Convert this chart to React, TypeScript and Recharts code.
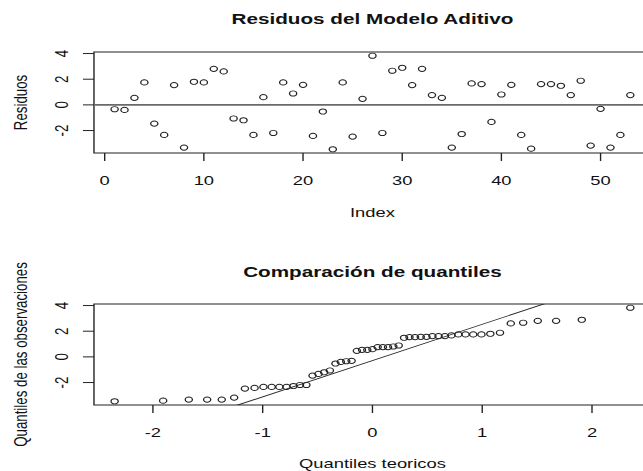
import React from 'react';
import { ScatterChart, Scatter, XAxis, YAxis, ReferenceLine, ReferenceArea } from 'recharts';

// Residuals of the additive model, in index order (1..53)
const residuos = [
  -0.34, -0.39, 0.55, 1.75, -1.46, -2.34, 1.54, -3.33, 1.8, 1.75,
  2.81, 2.61, -1.06, -1.2, -2.34, 0.6, -2.19, 1.75, 0.89, 1.56,
  -2.42, -0.52, -3.46, 1.75, -2.47, 0.47, 3.83, -2.19, 2.66, 2.89,
  1.54, 2.81, 0.76, 0.55, -3.33, -2.27, 1.67, 1.62, -1.33, 0.81,
  1.56, -2.34, -3.41, 1.62, 1.62, 1.49, 0.76, 1.88, -3.17, -0.31,
  -3.33, -2.34, 0.76,
];

// Theoretical normal quantiles for n = 53
const teoricos = [
  -2.349, -1.907, -1.673, -1.506, -1.373, -1.26, -1.162, -1.074, -0.993, -0.918,
  -0.848, -0.782, -0.72, -0.66, -0.602, -0.546, -0.492, -0.44, -0.388, -0.337,
  -0.288, -0.239, -0.19, -0.142, -0.095, -0.047, 0, 0.047, 0.095, 0.142,
  0.19, 0.239, 0.288, 0.337, 0.388, 0.44, 0.492, 0.546, 0.602, 0.66,
  0.72, 0.782, 0.848, 0.918, 0.993, 1.074, 1.162, 1.26, 1.373, 1.506,
  1.673, 1.907, 2.349,
];

const indexTicks = [0, 10, 20, 30, 40, 50];
const residTicks = [-2, 0, 2, 4];
const teorTicks = [-2, -1, 0, 1, 2];

const qqIntercept = -0.285;
const qqSlope = 2.824;

const topData = residuos.map((v, i) => ({ x: i + 1, y: v }));
const observados = [...residuos].sort((a, b) => a - b);
const qqData = teoricos.map((q, i) => ({ x: q, y: observados[i] }));

const SX = 1.38;
const VW = 500;
const FONT = 'Liberation Sans, Arial, sans-serif';
const FS = 13.3;
const TFS = 15;
const INK = '#111';
const LINE = '#222';

const xDomTop: [number, number] = [-1.08, 55.08];
const xDomQQ: [number, number] = [-2.537, 2.537];
const yDom: [number, number] = [-3.75, 4.12];

const XTick = (p: any) => (
  <text x={p.x} y={p.y + 21.8} textAnchor="middle" fontSize={FS} fontFamily={FONT} fill={INK}>
    {p.payload.value}
  </text>
);

const YTick = (p: any) => {
  const bx = p.x - 8.8;
  return (
    <text
      x={bx}
      y={p.y}
      transform={`rotate(-90 ${bx} ${p.y})`}
      textAnchor="middle"
      fontSize={FS}
      fontFamily={FONT}
      fill={INK}
    >
      {p.payload.value}
    </text>
  );
};

const Dot = (p: any) => (
  <circle cx={p.cx} cy={p.cy} r={2.6} fill="none" stroke={LINE} strokeWidth={0.95} />
);

const margin = { top: 52, right: VW - 471.7, left: 0, bottom: 0 };

function Panel({ data, xDom, xTicks, withZero, withLine }: any) {
  return (
    <ScatterChart width={VW} height={219} margin={margin}>
      <XAxis
        type="number"
        dataKey="x"
        domain={xDom}
        allowDataOverflow
        ticks={xTicks}
        interval={0}
        height={66}
        tickSize={8}
        axisLine={false}
        tickLine={{ stroke: LINE }}
        tick={XTick}
      />
      <YAxis
        type="number"
        dataKey="y"
        domain={yDom}
        allowDataOverflow
        ticks={residTicks}
        interval={0}
        width={68.1}
        tickSize={8}
        axisLine={false}
        tickLine={{ stroke: LINE }}
        tick={YTick}
      />
      <ReferenceArea
        x1={xDom[0]}
        x2={xDom[1]}
        y1={yDom[0]}
        y2={yDom[1]}
        fill="none"
        stroke={LINE}
        strokeWidth={1}
        fillOpacity={0}
      />
      {withZero && <ReferenceLine y={0} stroke="#6a6a6a" strokeWidth={1.6} />}
      {withLine && (
        <ReferenceLine
          segment={[
            { x: xDom[0], y: qqIntercept + qqSlope * xDom[0] },
            { x: xDom[1], y: qqIntercept + qqSlope * xDom[1] },
          ]}
          ifOverflow="hidden"
          stroke={LINE}
          strokeWidth={0.9}
        />
      )}
      <Scatter data={data} isAnimationActive={false} shape={Dot} />
    </ScatterChart>
  );
}

export default function App() {
  const cx = (68.1 + 471.7) / 2;
  return (
    <div
      style={{
        position: 'absolute',
        left: 0,
        top: 0,
        width: 643,
        height: 471,
        overflow: 'hidden',
        background: '#fff',
      }}
    >
      <div
        style={{
          position: 'absolute',
          left: 0,
          top: 0,
          width: VW,
          height: 471,
          transform: `scaleX(${SX})`,
          transformOrigin: '0 0',
        }}
      >
        <div style={{ position: 'absolute', left: 0, top: 0 }}>
          <Panel data={topData} xDom={xDomTop} xTicks={indexTicks} withZero />
        </div>
        <div style={{ position: 'absolute', left: 0, top: 252 }}>
          <Panel data={qqData} xDom={xDomQQ} xTicks={teorTicks} withLine />
        </div>
        <svg
          width={VW}
          height={471}
          style={{ position: 'absolute', left: 0, top: 0, pointerEvents: 'none' }}
          fontFamily={FONT}
        >
          <text x={cx} y={24} textAnchor="middle" fontSize={TFS} fontWeight="bold" fill={INK}>
            Residuos del Modelo Aditivo
          </text>
          <text x={cx} y={217} textAnchor="middle" fontSize={FS} fill={INK}>
            Index
          </text>
          <text
            x={19.6}
            y={102.5}
            transform="rotate(-90 19.6 102.5)"
            textAnchor="middle"
            fontSize={FS}
            fill={INK}
          >
            Residuos
          </text>
          <text x={cx} y={276.7} textAnchor="middle" fontSize={TFS} fontWeight="bold" fill={INK}>
            Comparación de quantiles
          </text>
          <text x={cx} y={468.5} textAnchor="middle" fontSize={FS} fill={INK}>
            Quantiles teoricos
          </text>
          <text
            x={19.6}
            y={354.5}
            transform="rotate(-90 19.6 354.5)"
            textAnchor="middle"
            fontSize={FS}
            fill={INK}
          >
            Quantiles de las observaciones
          </text>
        </svg>
      </div>
    </div>
  );
}
